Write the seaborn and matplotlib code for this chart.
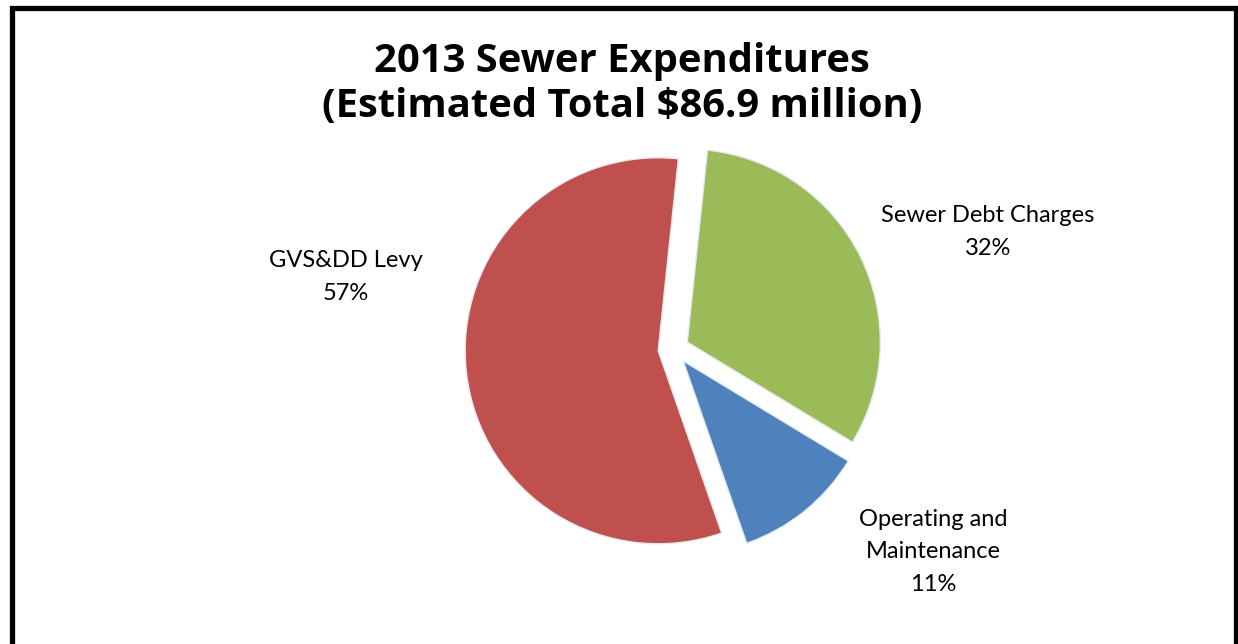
import matplotlib
matplotlib.use("Agg")
import matplotlib.pyplot as plt
from matplotlib.patches import Rectangle
import seaborn as sns

# ---- data ----
categories = ["Sewer Debt Charges", "Operating and\nMaintenance", "GVS&DD Levy"]
shares = [32, 11, 57]
colors = ["#9BBB59", "#4F81BD", "#C0504D"]
title_lines = ["2013 Sewer Expenditures", "(Estimated Total $86.9 million)"]

sns.set_theme(style="white")
plt.rcParams["font.family"] = ["Lato", "DejaVu Sans"]

W, H = 1238, 644
fig = plt.figure(figsize=(W / 100, H / 100), dpi=100)
fig.patch.set_facecolor("white")
ax = fig.add_axes([0, 0, 1, 1])

cx, cy, r = 673.5, H - 349, 193
explode_frac = 0.08
wedges, _ = ax.pie(
    shares,
    colors=colors,
    startangle=84,
    counterclock=False,
    explode=[explode_frac * r] * len(shares),
    radius=r,
    center=(cx, cy),
    frame=True,
    wedgeprops=dict(edgecolor="#E6E9F0", linewidth=1.0),
)
ax.set_xlim(0, W)
ax.set_ylim(0, H)
ax.set_aspect("equal")
ax.axis("off")

# labels
label_pos = [(988, H - 232), (933, H - 552), (346, H - 277)]
for cat, s, (lx, ly) in zip(categories, shares, label_pos):
    ax.text(lx, ly, f"{cat}\n{s}%", ha="center", va="center",
            fontsize=17, color="black", linespacing=1.7)

# title
for line, base in zip(title_lines, [72, 117]):
    ax.text(W / 2 + 3, H - base, line, ha="center", va="baseline",
            fontsize=28.8, fontweight="bold", color="black",
            family=["Open Sans", "DejaVu Sans"])

# outer frame
fig.patches.append(Rectangle((11.5 / W, -10 / H), (1235.5 - 11.5) / W, (H - 7.5 + 10) / H,
                             transform=fig.transFigure, fill=False,
                             edgecolor="black", linewidth=3.8, zorder=10))

fig.savefig("out.png", dpi=100, facecolor="white")
